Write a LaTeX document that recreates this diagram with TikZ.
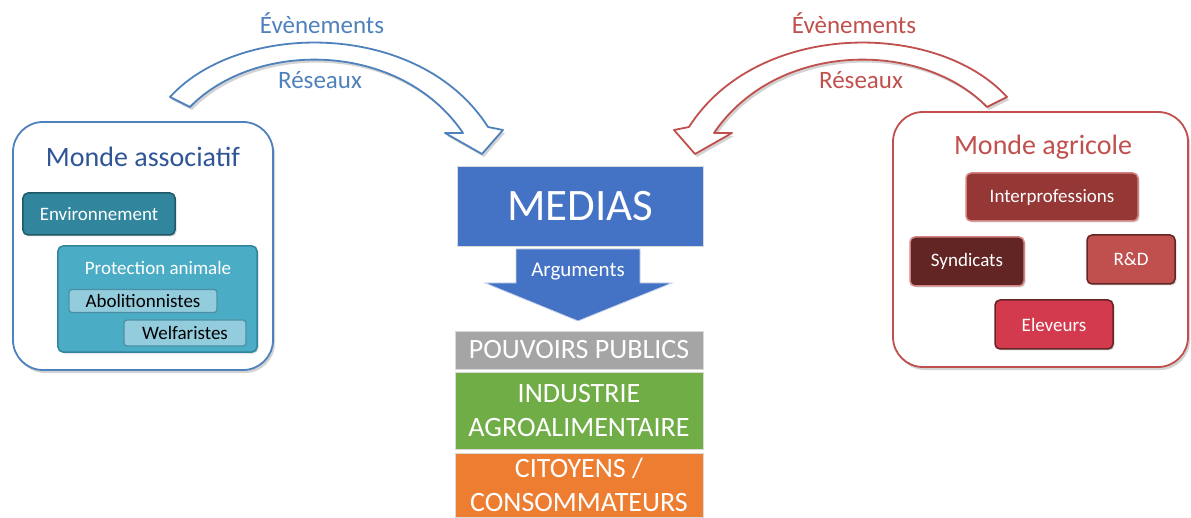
\documentclass[tikz,border=0pt]{standalone}
\usepackage{fontspec}
\setmainfont{Carlito}
\usetikzlibrary{shadows}
\definecolor{blA}{HTML}{4F81BD}
\definecolor{blD}{HTML}{2F5597}
\definecolor{envF}{HTML}{31859C}
\definecolor{envB}{HTML}{215968}
\definecolor{protF}{HTML}{4BACC6}
\definecolor{protB}{HTML}{31859C}
\definecolor{subF}{HTML}{93CDDD}
\definecolor{subB}{HTML}{4A8FA5}
\definecolor{rdA}{HTML}{C0504D}
\definecolor{interF}{HTML}{953735}
\definecolor{syndF}{HTML}{632523}
\definecolor{rdF}{HTML}{C0504D}
\definecolor{elevF}{HTML}{D43A4E}
\definecolor{medF}{HTML}{4472C4}
\definecolor{pouvF}{HTML}{A5A5A5}
\definecolor{indF}{HTML}{70AD47}
\definecolor{citF}{HTML}{ED7D31}
\tikzset{
  shad/.style={drop shadow={opacity=0.35,shadow xshift=2bp,shadow yshift=-3bp}},
  smallshad/.style={drop shadow={opacity=0.3,shadow xshift=1.5bp,shadow yshift=-1.5bp}},
  container/.style={draw, line width=1.8bp, fill=white, rounded corners=30bp, shad},
  ibox/.style={draw, line width=1.5bp, rounded corners=5bp, text=white, font=\fontsize{19bp}{21bp}\selectfont, inner sep=0pt, smallshad},
  sbox/.style={draw=subB, fill=subF, line width=1.2bp, rounded corners=3bp, text=black, font=\fontsize{19bp}{21bp}\selectfont, inner sep=0pt},
  cbox/.style={draw=white!85!black, line width=0.8bp, text=white, inner sep=0pt, align=center, font=\fontsize{28bp}{34bp}\selectfont},
  title/.style={font=\fontsize{28bp}{30bp}\selectfont},
  flowtxt/.style={font=\fontsize{25bp}{28bp}\selectfont},
  bigarrow/.style={line width=1.8bp, fill=white, line join=round, shad},
}
\begin{document}
\begin{tikzpicture}[x=1bp,y=-1bp]
\useasboundingbox (0,0) rectangle (1191,518);

% curved arrows
\draw[blA, bigarrow] (170,97) .. controls (240,20) and (420,20) .. (488,127) -- (503,130) -- (482,154) -- (445,133) -- (463,133) .. controls (400,40) and (255,40) .. (190,107) -- cycle;
\draw[rdA, bigarrow] (1007,97) .. controls (937,20) and (757,20) .. (689,127) -- (674,130) -- (695,154) -- (732,133) -- (714,133) .. controls (777,40) and (922,40) .. (987,107) -- cycle;
\node[flowtxt, text=blA] (evL) at (322,23) {Évènements};
\node[flowtxt, text=blA] (reL) at (320,80) {Réseaux};
\node[flowtxt, text=rdA] (evR) at (854,23) {Évènements};
\node[flowtxt, text=rdA] (reR) at (861,80) {Réseaux};

% left container
\node[container, draw=blA, minimum width=260bp, minimum height=248bp] (assoc) at (143,246) {};
\node[title, text=blD] (assocT) at (143,157) {Monde associatif};
\node[ibox, draw=envB, fill=envF, minimum width=152bp, minimum height=42bp] (env) at (99,214) {Environnement};
\node[ibox, draw=protB, fill=protF, minimum width=199bp, minimum height=106bp] (prot) at (157.5,299) {};
\node[text=white, font=\fontsize{19bp}{21bp}\selectfont] (protT) at (158,268) {Protection animale};
\node[sbox, minimum width=148bp, minimum height=23bp] (abol) at (143,301) {Abolitionnistes};
\node[sbox, minimum width=122bp, minimum height=26bp] (welf) at (185,333) {Welfaristes};

% right container
\node[container, draw=rdA, minimum width=295bp, minimum height=255bp] (agri) at (1040.5,239.5) {};
\node[title, text=rdA] (agriT) at (1043,147) {Monde agricole};
\node[ibox, draw=rdA!70!white, fill=interF, minimum width=172bp, minimum height=48bp] (inter) at (1052,197) {Interprofessions};
\node[ibox, draw=rdA!70!white, fill=syndF, minimum width=114bp, minimum height=49bp] (synd) at (967,261.5) {Syndicats};
\node[ibox, draw=syndF, fill=rdF, minimum width=88bp, minimum height=49bp] (rd) at (1131,259.5) {R\&D};
\node[ibox, draw=syndF, fill=elevF, minimum width=118bp, minimum height=49bp] (elev) at (1054,324.5) {Eleveurs};

% center
\node[cbox, fill=medF, minimum width=246bp, minimum height=80bp, font=\fontsize{45bp}{50bp}\selectfont] (med) at (580.5,206) {MEDIAS};
\draw[fill=medF, draw=white!70!medF, line width=0.8bp] (516,249) -- (640,249) -- (640,283) -- (672,283) -- (578,321) -- (485,283) -- (516,283) -- cycle;
\node[text=white, font=\fontsize{21bp}{24bp}\selectfont] (arg) at (578,272) {Arguments};
\node[cbox, fill=pouvF, minimum width=248bp, minimum height=38bp] (pouv) at (579,350) {POUVOIRS PUBLICS};
\node[cbox, fill=indF, minimum width=248bp, minimum height=77bp] (ind) at (579,410.5) {INDUSTRIE\\AGROALIMENTAIRE};
\node[cbox, fill=citF, minimum width=248bp, minimum height=64bp] (cit) at (579,485) {CITOYENS /\\CONSOMMATEURS};
\end{tikzpicture}
\end{document}
